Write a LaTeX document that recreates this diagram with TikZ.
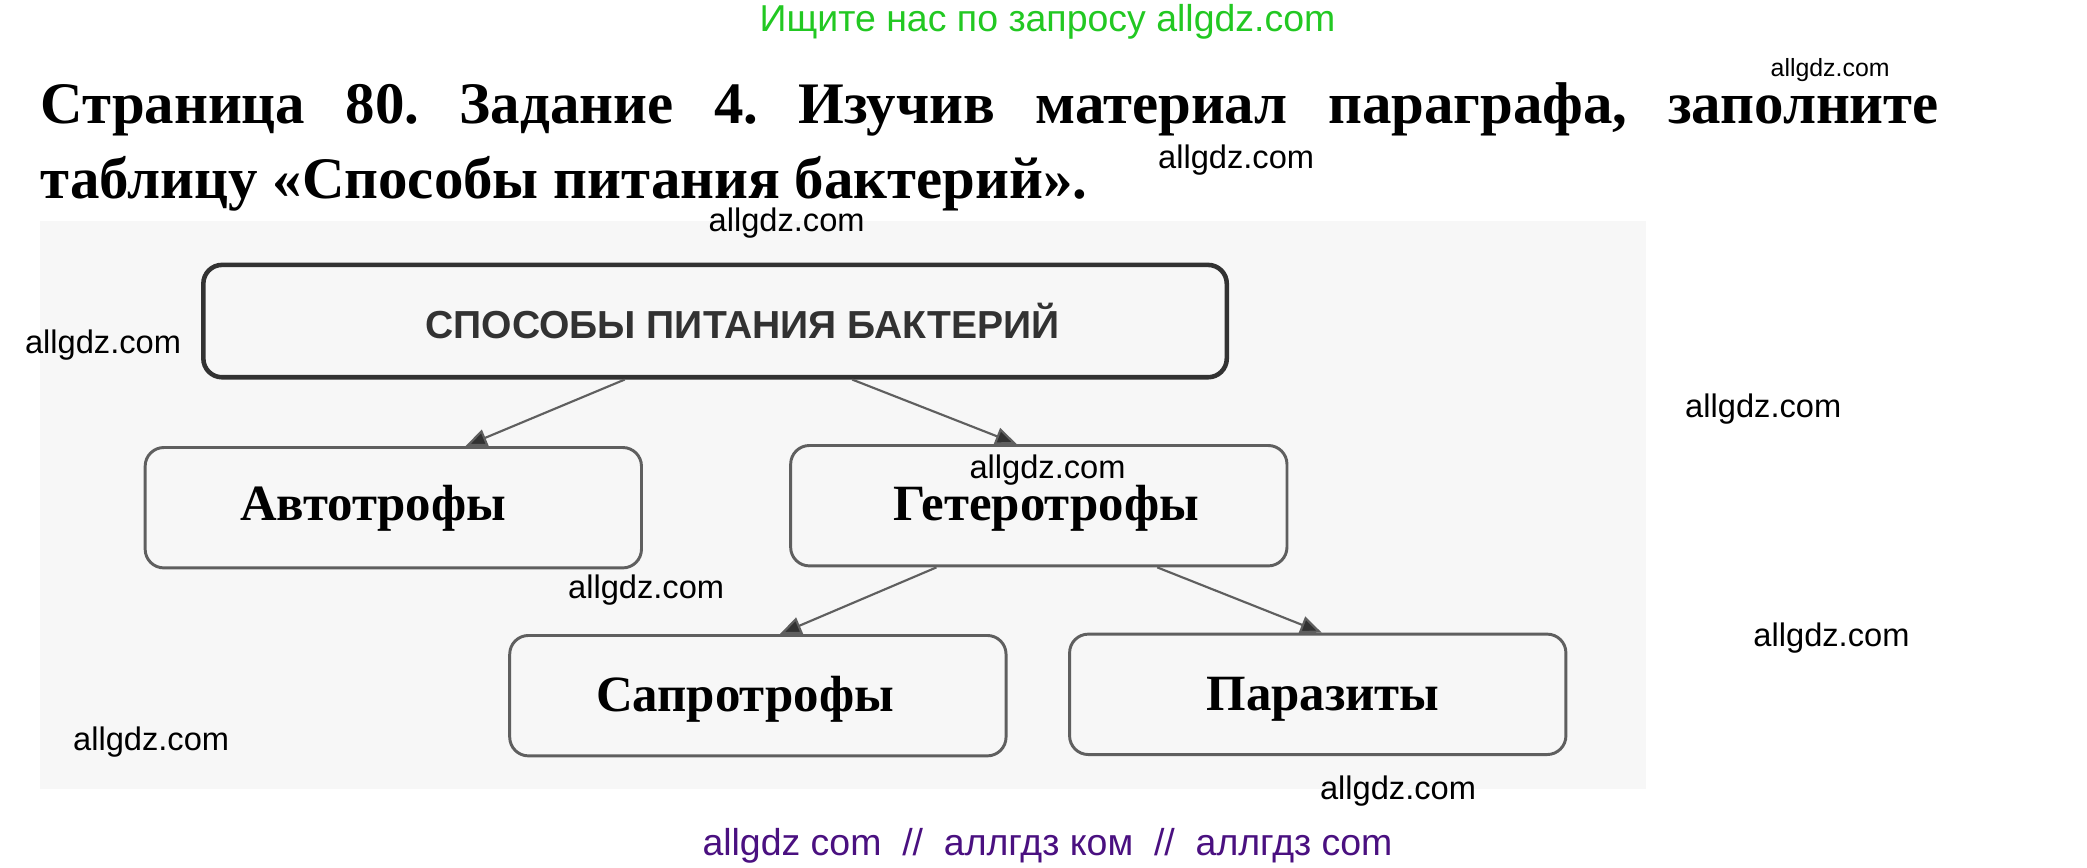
\documentclass[tikz,border=0pt]{standalone}
\usepackage{fontspec}
\setmainfont{Liberation Serif}
\newfontfamily\wmfont{Liberation Sans}
\usetikzlibrary{arrows.meta,calc}
\definecolor{wmgreen}{RGB}{34,200,34}
\definecolor{wmpurple}{RGB}{74,16,128}
\definecolor{boxline}{RGB}{95,95,95}
\definecolor{topline}{RGB}{50,50,50}
\definecolor{scangray}{RGB}{247,247,247}
\frenchspacing
\begin{document}
\begin{tikzpicture}[x=0.5pt,y=0.5pt,yscale=-1,xscale=1,
    box/.style={draw=boxline,line width=1.1pt,rounded corners=7pt,minimum width=185.5pt,minimum height=45pt,inner sep=0pt},
    topbox/.style={draw=topline,line width=1.7pt,rounded corners=7pt,minimum width=382.5pt,minimum height=42pt,inner sep=0pt},
    boxtext/.style={font=\fontsize{19}{23}\selectfont\bfseries,inner sep=0pt},
    arr/.style={draw=boxline,line width=0.8pt,-{Triangle[length=8pt,width=6.5pt,fill=topline]}},
    wm/.style={font=\wmfont\fontsize{12.2}{14}\selectfont,inner sep=0pt}]
    \useasboundingbox (0,0) rectangle (1560,648.8);
    %scanned page
    \fill[scangray] (30,165) rectangle (1230,590);

    % Text Node
    \node[font=\wmfont\fontsize{14}{16}\selectfont,text=wmgreen,inner sep=0pt] (findus) at (783,16) {Ищите нас по запросу allgdz.com};
    % Text Node
    \node[anchor=base west,inner sep=0pt,text width=709.5pt,align=justify,font=\fontsize{22}{28}\selectfont\bfseries] (task) at (30,92) {Страница 80. Задание 4. Изучив материал параграфа, заполните\linebreak таблицу «Способы питания бактерий».};

    %Shape: Rounded Rect
    \node[topbox] (ways) at (534.5,240) {};
    \node[font=\wmfont\fontsize{14.6}{17}\selectfont\bfseries,text=topline,inner sep=0pt] (waystext) at (555,240) {СПОСОБЫ ПИТАНИЯ БАКТЕРИЙ};
    %Shape: Rounded Rect
    \node[box] (auto) at (294,379.5) {};
    \node[boxtext] (autotext) at (279,380) {Автотрофы};
    %Shape: Rounded Rect
    \node[box] (hetero) at (776.5,378) {};
    \node[boxtext] (heterotext) at (782,380) {Гетеротрофы};
    %Shape: Rounded Rect
    \node[box] (sapro) at (566.5,520) {};
    \node[boxtext] (saprotext) at (557,523) {Сапротрофы};
    %Shape: Rounded Rect
    \node[box] (paras) at (985,519) {};
    \node[boxtext] (parastext) at (989,523) {Паразиты};

    %Straight Lines
    \draw[arr] ($(ways.south)+(-67.5,0)$) -- ($(auto.north)+(54,0)$);
    \draw[arr] ($(ways.south)+(102.5,0)$) -- ($(hetero.north)+(-16.5,0)$);
    \draw[arr] ($(hetero.south)+(-76.5,0)$) -- ($(sapro.north)+(16.5,0)$);
    \draw[arr] ($(hetero.south)+(88.5,0)$) -- ($(paras.north)+(3,0)$);

    % Text Node
    \node[wm,font=\wmfont\fontsize{9.3}{11}\selectfont] (wm1) at (1368,52) {allgdz.com};
    \node[wm] (wm2) at (924,120) {allgdz.com};
    \node[wm] (wm3) at (588,167) {allgdz.com};
    \node[wm] (wm4) at (77,258) {allgdz.com};
    \node[wm] (wm5) at (1318,306) {allgdz.com};
    \node[wm] (wm6) at (783,351) {allgdz.com};
    \node[wm] (wm7) at (483,441) {allgdz.com};
    \node[wm] (wm8) at (1369,477) {allgdz.com};
    \node[wm] (wm9) at (113,555) {allgdz.com};
    \node[wm] (wm10) at (1045,591) {allgdz.com};
    % Text Node
    \node[font=\wmfont\fontsize{14}{16}\selectfont,text=wmpurple,inner sep=0pt] (mirrors) at (783,632) {allgdz com\ \ //\ \ аллгдз ком\ \ //\ \ аллгдз com};
\end{tikzpicture}
\end{document}
